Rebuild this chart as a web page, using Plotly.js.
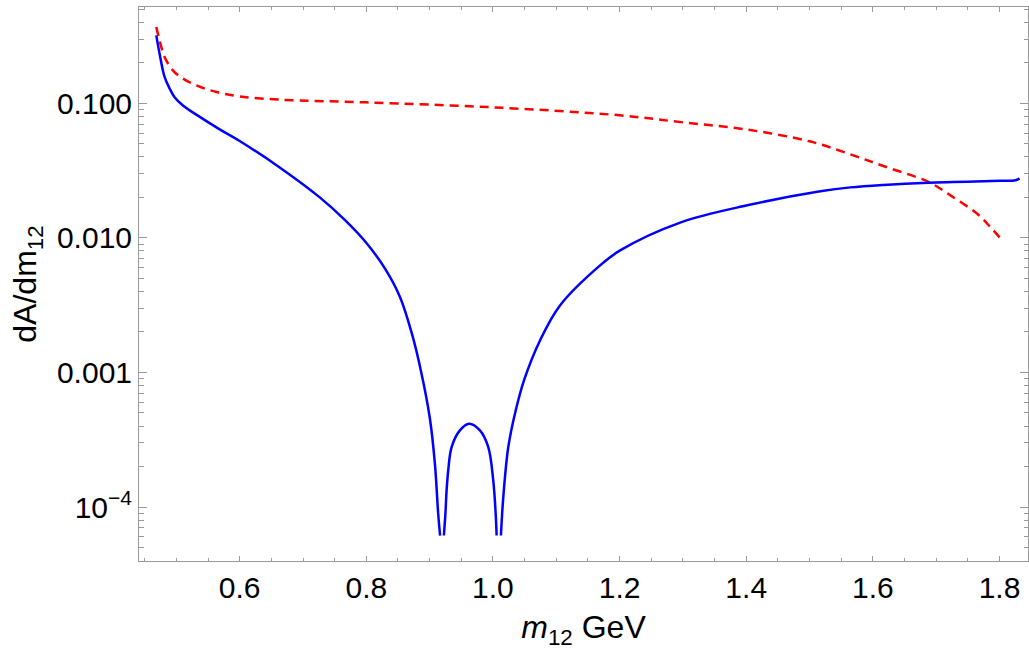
<!DOCTYPE html>
<html>
<head>
<meta charset="utf-8">
<script src="https://cdn.plot.ly/plotly-3.0.1.min.js"></script>
<style>html,body{margin:0;padding:0;background:#fff;}#chart{width:1029px;height:651px;}</style>
</head>
<body>
<div id="chart"></div>
<script>
// Red dashed curve
const redX = [0.4683, 0.4735, 0.4814, 0.4945, 0.5104, 0.5315, 0.5632, 0.6000, 0.6632, 0.8000, 1.0000, 1.2000, 1.3000, 1.4000, 1.5000, 1.5644, 1.6166, 1.6882, 1.7225, 1.7648, 1.7858, 1.8043];
const redY = [0.369, 0.294, 0.221, 0.176, 0.1527, 0.136, 0.1213, 0.1127, 0.1065, 0.1017, 0.0934, 0.0815, 0.0722, 0.0640, 0.0522, 0.0418, 0.0342, 0.0260, 0.0207, 0.0151, 0.0120, 0.00958];
// Blue solid curve (null = gap at the zeros)
const blueX = [0.4683, 0.4735, 0.4814, 0.4893, 0.4972, 0.5104, 0.5315, 0.5684, 0.6000, 0.6632, 0.7265, 0.7660, 0.7992, 0.8293, 0.8530, 0.8719, 0.8862, 0.9004, 0.9083, 0.9135, 0.9165,
  null,
  0.9225, 0.9249, 0.9268, 0.9295, 0.9347, 0.9478, 0.9625, 0.9794, 0.9926, 1.0005, 1.0043, 1.0058,
  null,
  1.0126, 1.0163, 1.0242, 1.0348, 1.0490, 1.0743, 1.1059, 1.1692, 1.2008, 1.2957, 1.4016, 1.5170, 1.5644, 1.6166, 1.6877, 1.8016, 1.8253, 1.8316];
const blueY = [0.320, 0.234, 0.157, 0.1290, 0.1110, 0.0963, 0.0825, 0.0641, 0.0525, 0.0334, 0.0200, 0.0136, 0.00928, 0.00594, 0.00366, 0.00195, 0.00103, 4.55e-4, 2.10e-4, 8.95e-5, 6.14e-5,
  null,
  6.14e-5, 8.90e-5, 1.33e-4, 1.90e-4, 2.79e-4, 3.71e-4, 4.16e-4, 3.71e-4, 2.79e-4, 1.57e-4, 8.90e-5, 6.14e-5,
  null,
  6.14e-5, 1.18e-4, 2.79e-4, 4.95e-4, 8.72e-4, 1.73e-3, 3.15e-3, 6.25e-3, 8.07e-3, 0.0130, 0.01746, 0.02218, 0.02374, 0.02477, 0.02572, 0.02655, 0.0268, 0.0277];

const xTickVals = [0.6, 0.8, 1.0, 1.2, 1.4, 1.6, 1.8];
const xTickText = ['0.6', '0.8', '1.0', '1.2', '1.4', '1.6', '1.8'];
const xMinorVals = [0.45, 0.5, 0.55, 0.65, 0.7, 0.75, 0.85, 0.9, 0.95, 1.05, 1.1, 1.15, 1.25, 1.3, 1.35, 1.45, 1.5, 1.55, 1.65, 1.7, 1.75];
const yTickVals = [1e-4, 1e-3, 1e-2, 1e-1];
const yTickText = ['10<sup>\u22124</sup>', '0.001', '0.010', '0.100'];
const yMinorVals = [];
[1e-5, 1e-4, 1e-3, 1e-2, 1e-1].forEach(d => { for (let k = 2; k <= 9; k++) yMinorVals.push(k * d); });

const FONT = 'Liberation Sans, Arial, Helvetica, sans-serif';
const frame = '#9a9a9a';

const traces = [
  {x: redX, y: redY, mode: 'lines', line: {color: '#ff0000', width: 2.5, dash: '9px,6px', shape: 'spline', smoothing: 1}, hoverinfo: 'skip', showlegend: false},
  {x: blueX, y: blueY, mode: 'lines', connectgaps: false, line: {color: '#0000ff', width: 2.5, shape: 'spline', smoothing: 1}, hoverinfo: 'skip', showlegend: false}
];

const layout = {
  width: 1029, height: 651,
  margin: {l: 139, r: 1, t: 7, b: 90},
  paper_bgcolor: '#fff', plot_bgcolor: '#fff',
  font: {family: FONT, color: '#000', size: 30},
  showlegend: false,
  xaxis: {
    range: [0.441, 1.845], showgrid: false, zeroline: false,
    showline: true, linecolor: frame, linewidth: 1, mirror: 'ticks',
    ticks: 'inside', ticklen: 5, tickcolor: frame, tickwidth: 1,
    tickmode: 'array', tickvals: xTickVals, ticktext: xTickText,
    tickfont: {family: FONT, size: 30, color: '#000'},
    minor: {tickmode: 'array', tickvals: xMinorVals, ticks: 'inside', ticklen: 3, tickcolor: frame, showgrid: false},
    title: {text: '<i>m</i><sub>12</sub> GeV', font: {family: FONT, size: 32, color: '#000'}, standoff: 12}
  },
  yaxis: {
    type: 'log', range: [Math.log10(3.97e-5), Math.log10(0.52)], showgrid: false, zeroline: false,
    showline: true, linecolor: frame, linewidth: 1, mirror: 'ticks',
    ticks: 'inside', ticklen: 8, tickcolor: frame, tickwidth: 1,
    tickmode: 'array', tickvals: yTickVals, ticktext: yTickText,
    tickfont: {family: FONT, size: 30, color: '#000'},
    minor: {tickmode: 'array', tickvals: yMinorVals, ticks: 'inside', ticklen: 4.5, tickcolor: frame, showgrid: false},
    title: {text: 'dA/dm<sub>12</sub>', font: {family: FONT, size: 32, color: '#000'}, standoff: 10}
  }
};

Plotly.newPlot('chart', traces, layout, {staticPlot: true, displayModeBar: false});
</script>
</body>
</html>
